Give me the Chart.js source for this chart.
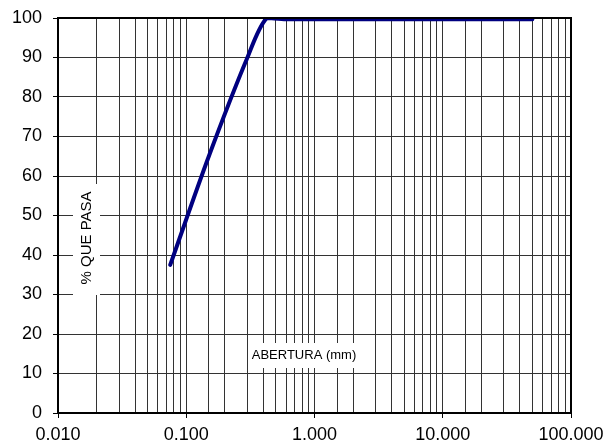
<!DOCTYPE html>
<html>
<head>
<meta charset="utf-8">
<style>
  html, body { margin: 0; padding: 0; background: #fff; }
  #wrap { width: 608px; height: 448px; }
</style>
<script src="https://cdn.jsdelivr.net/npm/chart.js@4"></script>
</head>
<body>
<div id="wrap"><canvas id="granulo" width="608" height="448"></canvas></div>
<script>
// curva granulometrica
const aberturas = [0.075, 0.15, 0.3, 0.425, 0.6, 50];
const pasa = [37.5, 65, 90, 100, 99.7, 99.7];
const tituloX = 'ABERTURA (mm)';
const tituloY = '% QUE PASA';

const fuente = "'Liberation Sans', Arial, sans-serif";

// titulos dibujados dentro del area con fondo blanco
const titulos = {
    id: 'titulos',
    beforeDatasetsDraw(chart) {
        const ctx = chart.ctx;
        ctx.save();
        ctx.fillStyle = '#fff';
        ctx.fillRect(73, 184, 27, 111);
        ctx.fillRect(250, 343, 108, 25);
        ctx.fillStyle = '#000';
        ctx.textAlign = 'center';
        ctx.textBaseline = 'middle';
        ctx.font = '13px ' + fuente;
        ctx.fillText(tituloX, 304, 355);
        ctx.translate(87, 238);
        ctx.rotate(-Math.PI / 2);
        ctx.font = '15px ' + fuente;
        ctx.fillText(tituloY, 0, 0);
        ctx.restore();
    },
    afterDraw(chart) {
        const ctx = chart.ctx;
        const a = chart.chartArea;
        ctx.save();
        ctx.strokeStyle = '#000';
        ctx.lineWidth = 2;
        ctx.strokeRect(a.left, a.top, a.right - a.left, a.bottom - a.top);
        ctx.restore();
    }
};

function esMayor(v) {
    const l = Math.log10(v);
    return Math.abs(l - Math.round(l)) < 1e-6;
}

new Chart(document.getElementById('granulo'), {
    type: 'line',
    data: {
        labels: aberturas,
        datasets: [{
            data: aberturas.map((x, i) => ({ x: x, y: pasa[i] })),
            borderColor: '#000080',
            borderWidth: 4,
            pointRadius: 0,
            fill: false,
            tension: 0.3,
            borderCapStyle: 'round',
            clip: 0
        }]
    },
    options: {
        responsive: false,
        animation: false,
        layout: { padding: { top: 18, right: 37, left: 0, bottom: 0 } },
        plugins: {
            legend: { display: false },
            tooltip: { enabled: false }
        },
        scales: {
            x: {
                type: 'logarithmic',
                min: 0.01,
                max: 100,
                afterFit: s => { s.height = 35; s.paddingLeft = 0; s.paddingRight = 0; },
                grid: {
                    color: '#333',
                    lineWidth: 1,
                    tickLength: 5,
                    tickColor: c => esMayor(c.tick.value) ? '#000' : 'rgba(0,0,0,0)'
                },
                border: { display: false },
                ticks: {
                    autoSkip: false,
                    maxRotation: 0,
                    color: '#000',
                    padding: 6,
                    font: { family: fuente, size: 18 },
                    callback: v => esMayor(v) ? v.toFixed(3) : ''
                }
            },
            y: {
                min: 0,
                max: 100,
                afterFit: s => { s.width = 58; s.paddingTop = 0; s.paddingBottom = 0; },
                grid: { color: '#333', lineWidth: 1, tickLength: 5, tickColor: '#000' },
                border: { display: false },
                ticks: {
                    stepSize: 10,
                    color: '#000',
                    padding: 11,
                    font: { family: fuente, size: 18 }
                }
            }
        }
    },
    plugins: [titulos]
});
</script>
</body>
</html>
